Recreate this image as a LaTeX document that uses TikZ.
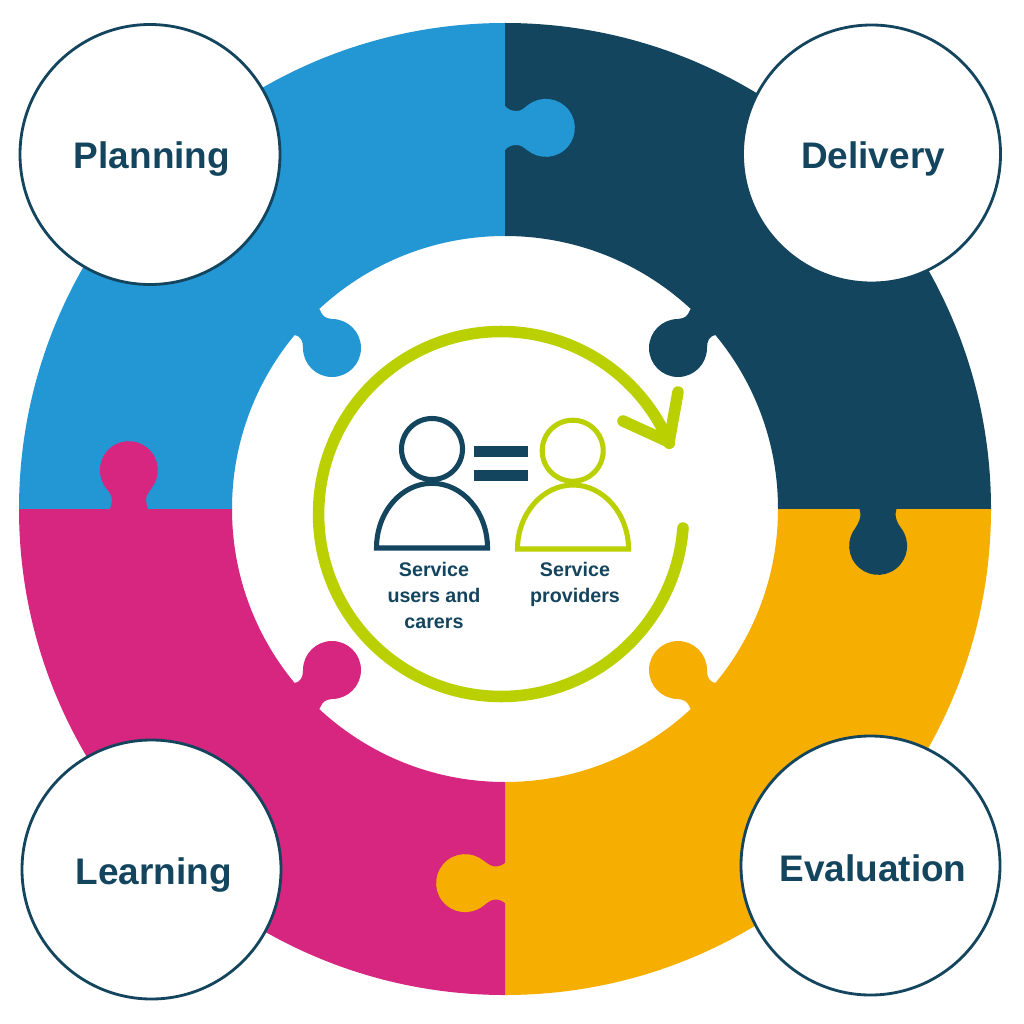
\documentclass[tikz,border=0pt]{standalone}
\usepackage{fontspec}
\setmainfont{Liberation Sans}
\usetikzlibrary{calc}
\definecolor{cblue}{HTML}{2396D4}
\definecolor{cnavy}{HTML}{14455E}
\definecolor{camber}{HTML}{F6AF00}
\definecolor{cmag}{HTML}{D72680}
\definecolor{cgreen}{HTML}{BBD000}
\tikzset{
  stage/.style={circle,draw=cnavy,line width=2pt,fill=white,minimum size=#1*0.025cm,inner sep=0pt},
  stagetext/.style={anchor=base,inner sep=0pt,text=cnavy,font=\fontsize{26.3}{30}\selectfont\bfseries},
  role/.style={text=cnavy,align=center,anchor=base,inner sep=0pt,font=\fontsize{14}{18.2}\selectfont\bfseries},
  person/.style={line width=3.6pt,fill=none,miter limit=10},
  head/.style={circle,line width=3.6pt,minimum size=61*0.025cm,inner sep=0pt},
  cyc/.style={draw=cgreen,line width=8.2pt,line cap=round,line join=round},
}
% ring quadrant: start angle, end angle, colour (angles measured clockwise on screen)
\newcommand{\ringpart}[3]{\fill[#3] (505,509) ++(#1:486) arc[start angle=#1,end angle=#2,radius=486] -- ($(505,509)+(#2:273)$) arc[start angle=#2,end angle=#1,radius=273] -- cycle;}
% tab on a straight seam: x, y, rotation, colour, ball distance, base half width, dip x, dip half width
\newcommand{\edgetab}[8]{\begin{scope}[shift={(#1,#2)},rotate=#3]
 \fill[#4] (-3,-#6) -- (0,-#6) .. controls (#7*0.3,-#8-1) and (#7*0.6,-#8) .. (#7,-#8) .. controls (#7+4,-#8) and (#5-22.7,-19.3) .. (#5-18,-23) arc[start angle=232,end angle=-232,radius=29] .. controls (#5-22.7,19.3) and (#7+4,#8) .. (#7,#8) .. controls (#7*0.6,#8) and (#7*0.3,#8+1) .. (0,#6) -- (-3,#6) -- cycle;
\end{scope}}
% tab on the inner rim, written for the top left and mirrored
\newcommand{\rimtab}[3]{\begin{scope}[shift={(505,509)},xscale=#1,yscale=#2]
 \fill[#3] (-185,-199) .. controls (-182,-192) and (-180,-191) .. (-173,-190) arc[start angle=-90,end angle=180,radius=29] .. controls (-202,-168) and (-204,-173) .. (-211,-174) -- (-225,-200) -- (-200,-215) -- cycle;
\end{scope}}
\begin{document}
\begin{tikzpicture}[x=0.025cm,y=-0.025cm]
\useasboundingbox (0,0) rectangle (1024,1024);
\fill[white] (0,0) rectangle (1024,1024);
\ringpart{180}{270}{cblue}
\ringpart{270}{360}{cnavy}
\ringpart{0}{90}{camber}
\ringpart{90}{180}{cmag}
\edgetab{505}{128}{0}{cblue}{41}{22}{12}{17}
\edgetab{878}{509}{-90}{cnavy}{37}{18.5}{5}{17.5}
\edgetab{505}{883}{180}{camber}{40}{20}{10}{16.5}
\edgetab{129}{509}{90}{cmag}{39}{19}{9}{17}
\rimtab{1}{1}{cblue}
\rimtab{-1}{1}{cnavy}
\rimtab{1}{-1}{cmag}
\rimtab{-1}{-1}{camber}
% cycle arrow
\coordinate (cycstart) at (683,528);
\coordinate (tip) at (669,442);
\coordinate (barbA) at (678,392);
\coordinate (barbB) at (623,421);
\draw[cyc] (cycstart) arc[start angle=4.4,end angle=337.2,radius=182.5];
\draw[cyc] (barbA) -- (tip) -- (barbB);
% stages
\node[stage=260] (planning) at (150,154.5) {};
\node[stage=258] (delivery) at (871.5,154) {};
\node[stage=259] (learning) at (151.5,869.5) {};
\node[stage=259] (evaluation) at (870.5,865.5) {};
\node[stagetext] (planningtext) at (152,168.3) {Planning};
\node[stagetext] (deliverytext) at (873,168.3) {Delivery};
\node[stagetext] (learningtext) at (153.5,884) {Learning};
\node[stagetext] (evaluationtext) at (873,881) {Evaluation};
% persons
\node[head,draw=cnavy] (headA) at (432,449) {};
\draw[person,draw=cnavy] (376.5,548) .. controls (376.5,512) and (401.5,483.3) .. (432,483.3) .. controls (462.5,483.3) and (487.5,512) .. (487.5,548) -- cycle;
\node[head,draw=cgreen] (headB) at (572.7,450.7) {};
\draw[person,draw=cgreen] (517.5,549) .. controls (517.5,514) and (542.5,485) .. (573,485) .. controls (603.5,485) and (628.5,514) .. (628.5,549) -- cycle;
\fill[cnavy] (474.3,446) rectangle (528.3,456.7);
\fill[cnavy] (474.3,470) rectangle (528.3,480.7);
\node[role] (users) at (434,628) {Service\\users and\\carers};
\node[role] (providers) at (575,602.3) {Service\\providers};
\end{tikzpicture}
\end{document}
